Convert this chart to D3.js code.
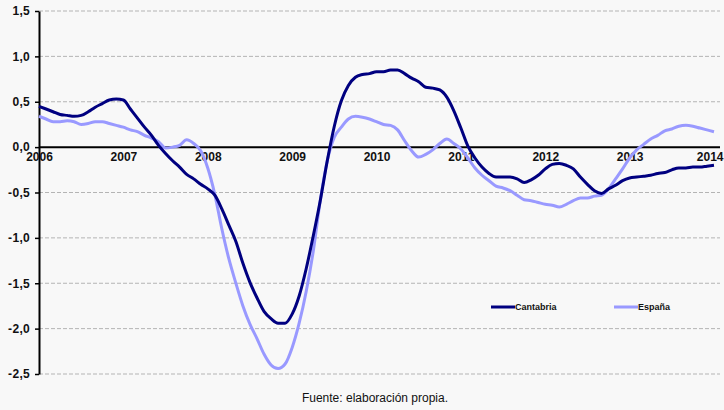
<!DOCTYPE html>
<html><head><meta charset="utf-8">
<script src="https://cdn.jsdelivr.net/npm/d3@7"></script>
<style>body{margin:0;background:#f8f8f8;}svg{display:block;font-family:"Liberation Sans",Arial,sans-serif;}</style>
</head><body><svg id="c" width="724" height="410"></svg>
<script>
const startYear = 2006;
const yearLabels = ["2006","2007","2008","2009","2010","2011","2012","2013","2014"];
const yTicks = [1.5,1.0,0.5,0.0,-0.5,-1.0,-1.5,-2.0,-2.5];
const seriesNames = ["Cantabria","España"];
// monthly values, Jan 2006 .. Jan 2014
const cantabria = [0.45,0.42,0.39,0.36,0.35,0.34,0.35,0.39,0.44,0.48,0.52,0.53,0.52,0.42,0.32,0.22,0.13,0.02,-0.07,-0.15,-0.22,-0.30,-0.35,-0.41,-0.46,-0.53,-0.68,-0.86,-1.04,-1.28,-1.49,-1.66,-1.81,-1.89,-1.94,-1.94,-1.84,-1.64,-1.34,-0.98,-0.59,-0.15,0.23,0.51,0.68,0.77,0.80,0.81,0.83,0.83,0.85,0.85,0.81,0.76,0.72,0.66,0.65,0.63,0.55,0.40,0.21,0.01,-0.12,-0.22,-0.29,-0.33,-0.33,-0.33,-0.35,-0.39,-0.36,-0.31,-0.24,-0.19,-0.18,-0.20,-0.24,-0.33,-0.41,-0.48,-0.51,-0.46,-0.42,-0.37,-0.34,-0.33,-0.32,-0.31,-0.29,-0.28,-0.25,-0.23,-0.23,-0.22,-0.22,-0.21,-0.20];
const espana = [0.34,0.31,0.28,0.28,0.29,0.28,0.25,0.26,0.28,0.28,0.26,0.24,0.22,0.19,0.17,0.13,0.10,0.06,-0.01,0.00,0.02,0.08,0.04,-0.04,-0.23,-0.52,-0.90,-1.23,-1.50,-1.75,-1.95,-2.11,-2.28,-2.40,-2.44,-2.39,-2.21,-1.94,-1.59,-1.15,-0.59,-0.15,0.11,0.22,0.31,0.34,0.33,0.31,0.28,0.25,0.24,0.19,0.07,-0.04,-0.11,-0.08,-0.03,0.04,0.09,0.04,-0.02,-0.12,-0.23,-0.31,-0.37,-0.43,-0.45,-0.48,-0.53,-0.58,-0.59,-0.61,-0.63,-0.64,-0.66,-0.63,-0.59,-0.56,-0.56,-0.54,-0.53,-0.46,-0.35,-0.24,-0.12,-0.03,0.03,0.09,0.13,0.18,0.20,0.23,0.24,0.23,0.21,0.19,0.17];
const colors = ["#000080","#9999ff"];

const svg = d3.select("#c");
const x = d3.scaleLinear().domain([0, 96]).range([39, 714]);
const y = d3.scaleLinear().domain([-2.5, 1.5]).range([374, 11]);

// gridlines
svg.append("g").selectAll("line").data(yTicks.filter(d => d !== 0)).join("line")
  .attr("x1", 39).attr("x2", 720).attr("y1", d => y(d)).attr("y2", d => y(d))
  .attr("stroke", "#b4b4b4").attr("stroke-width", 1).attr("stroke-dasharray", "4,2");

// y axis
const yAxis = d3.axisLeft(y).tickValues(yTicks).tickSize(4).tickSizeOuter(0)
  .tickFormat(d => d3.format(".1f")(d).replace(".", ",").replace("−", "-"));
const ga = svg.append("g").attr("transform", "translate(39,0)").call(yAxis);
ga.select(".domain").attr("stroke", "#000").attr("stroke-width", 2);
ga.selectAll(".tick line").attr("stroke", "#000").attr("stroke-width", 1.5);
ga.selectAll(".tick text").attr("font-size", 12).attr("font-weight", "bold").attr("fill", "#111")
  .attr("font-family", "Liberation Sans, Arial, sans-serif").attr("x", -9).attr("letter-spacing", "0.3px");

// zero line
svg.append("line").attr("x1", 39).attr("x2", 720).attr("y1", y(0)).attr("y2", y(0))
  .attr("stroke", "#000").attr("stroke-width", 2);

// x labels
const xAxis = d3.axisBottom(x).tickValues(yearLabels.map((d, i) => i * 12)).tickSize(0)
  .tickFormat((d, i) => yearLabels[i]);
const gx = svg.append("g").attr("transform", `translate(0,${y(0)})`).call(xAxis);
gx.select(".domain").remove();
gx.selectAll(".tick text").attr("font-size", 12).attr("font-weight", "bold").attr("fill", "#111")
  .attr("font-family", "Liberation Sans, Arial, sans-serif").attr("dy", "0.4em").attr("y", 9);
// keep the last label inside the frame
gx.selectAll(".tick text").filter((d, i) => i === yearLabels.length - 1)
  .attr("text-anchor", "end").attr("x", 723 - x(96));

// lines
const line = d3.line().x((d, i) => x(i)).y(d => y(d)).curve(d3.curveMonotoneX);
[espana, cantabria].forEach((s, k) => {
  svg.append("path").datum(s).attr("d", line).attr("fill", "none")
    .attr("stroke", k === 0 ? colors[1] : colors[0]).attr("stroke-width", 3)
    .attr("stroke-linejoin", "round");
});

// legend
const lg = svg.append("g");
const legX = [491, 614];
seriesNames.forEach((n, i) => {
  lg.append("line").attr("x1", legX[i]).attr("x2", legX[i] + 24).attr("y1", 307).attr("y2", 307)
    .attr("stroke", colors[i]).attr("stroke-width", 3);
  lg.append("text").attr("x", legX[i] + 24).attr("y", 310).text(n)
    .attr("font-size", 9).attr("font-weight", "bold").attr("fill", "#111");
});

// footer
svg.append("text").attr("x", 375).attr("y", 402).attr("text-anchor", "middle")
  .attr("font-size", 12).attr("fill", "#111").text("Fuente: elaboración propia.");
</script></body></html>
